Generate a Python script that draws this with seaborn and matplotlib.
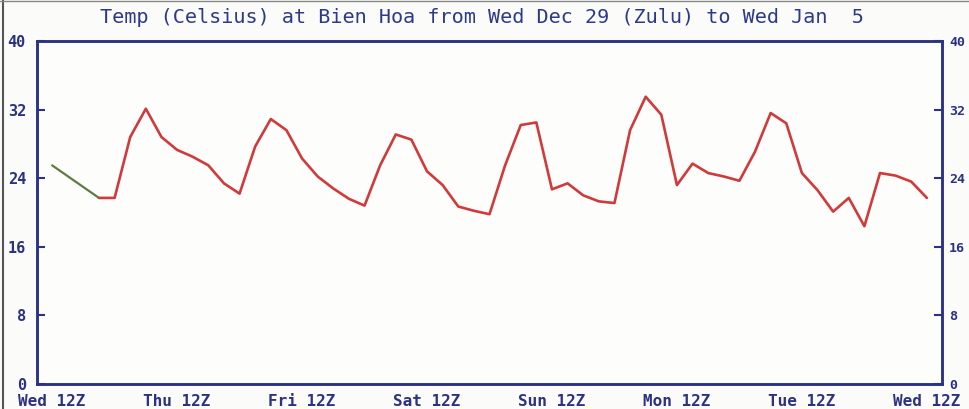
import pandas as pd
import matplotlib
matplotlib.use("Agg")
import matplotlib.pyplot as plt
import seaborn as sns
from matplotlib.lines import Line2D

# hours since Wed Dec 29 00Z
green_hours = [12, 21]
green_temps = [25.5, 21.7]

red_hours = [21, 24, 27, 30, 33, 36, 39, 42, 45, 48, 51, 54, 57, 60, 63, 66, 69, 72,
             75, 78, 81, 84, 87, 90, 93, 96, 99, 102, 105, 108, 111, 114, 117, 120,
             123, 126, 129, 132, 135, 138, 141, 144, 147, 150, 153, 156, 159, 162,
             165, 168, 171, 174, 177, 180]
red_temps = [21.7, 21.7, 28.8, 32.1, 28.8, 27.3, 26.5, 25.5, 23.4, 22.2, 27.7, 30.9,
             29.6, 26.3, 24.2, 22.8, 21.6, 20.8, 25.5, 29.1, 28.5, 24.8, 23.2, 20.7,
             20.2, 19.8, 25.5, 30.2, 30.5, 22.7, 23.4, 22.0, 21.3, 21.1, 29.6, 33.5,
             31.4, 23.2, 25.7, 24.6, 24.2, 23.7, 27.1, 31.6, 30.4, 24.6, 22.6, 20.1,
             21.7, 18.4, 24.6, 24.3, 23.6, 21.7]

tick_hours = [12, 36, 60, 84, 108, 132, 156, 180]
tick_labels = ["Wed 12Z", "Thu 12Z", "Fri 12Z", "Sat 12Z",
               "Sun 12Z", "Mon 12Z", "Tue 12Z", "Wed 12Z"]
y_ticks = [0, 8, 16, 24, 32, 40]

title = "Temp (Celsius) at Bien Hoa from Wed Dec 29 (Zulu) to Wed Jan  5"

navy = "#2b3183"
sns.set_theme(style="white")
plt.rcParams['font.family'] = ['DejaVu Sans Mono', 'DejaVu Sans']

fig = plt.figure(figsize=(9.69, 4.09), dpi=100, facecolor="#fbfbf9")
ax = fig.add_axes([0.0382, 0.0611, 0.9339, 0.8387])
ax.set_facecolor("#fdfdfc")

green_df = pd.DataFrame({"hour": green_hours, "temp": green_temps})
red_df = pd.DataFrame({"hour": red_hours, "temp": red_temps})
sns.lineplot(data=green_df, x="hour", y="temp", ax=ax, color="#5f7a45", linewidth=1.6)
sns.lineplot(data=red_df, x="hour", y="temp", ax=ax, color="#d03a3a", linewidth=1.9)

ax.set_xlim(9.1, 182.9)
ax.set_ylim(0, 40)
ax.set_xlabel("")
ax.set_ylabel("")
ax.set_xticks(tick_hours)
ax.set_xticklabels(tick_labels)
ax.set_yticks(y_ticks)

# right-hand axis repeats the temperature scale
ax2 = ax.twinx()
ax2.set_ylim(0, 40)
ax2.set_yticks(y_ticks)

for a in (ax, ax2):
    for s in a.spines.values():
        s.set_color(navy)
        s.set_linewidth(1.8)

ax.tick_params(axis="x", direction="in", length=5, width=1.3, color=navy,
               labelcolor=navy, labelsize=11.5, pad=7)
ax.tick_params(axis="y", direction="in", length=6, width=1.5, color=navy,
               labelcolor=navy, labelsize=11, left=True, right=False, pad=8)
ax2.tick_params(axis="y", direction="in", length=6, width=1.5, color=navy,
                labelcolor=navy, labelsize=9.5, right=True, left=False, pad=5)
for lab in ax.get_xticklabels() + ax.get_yticklabels() + ax2.get_yticklabels():
    lab.set_fontweight("bold")

fig.text(0.497, 0.957, title, ha="center", va="center", fontsize=14.5,
         color="#2d3a8c")

# scanned frame edges
fig.add_artist(Line2D([0.003, 0.003], [0, 1], color="#555555", linewidth=1.5,
                      transform=fig.transFigure))
fig.add_artist(Line2D([0, 1], [0.998, 0.998], color="#888888", linewidth=1.0,
                      transform=fig.transFigure))

fig.savefig("out.png", dpi=100, facecolor=fig.get_facecolor())
